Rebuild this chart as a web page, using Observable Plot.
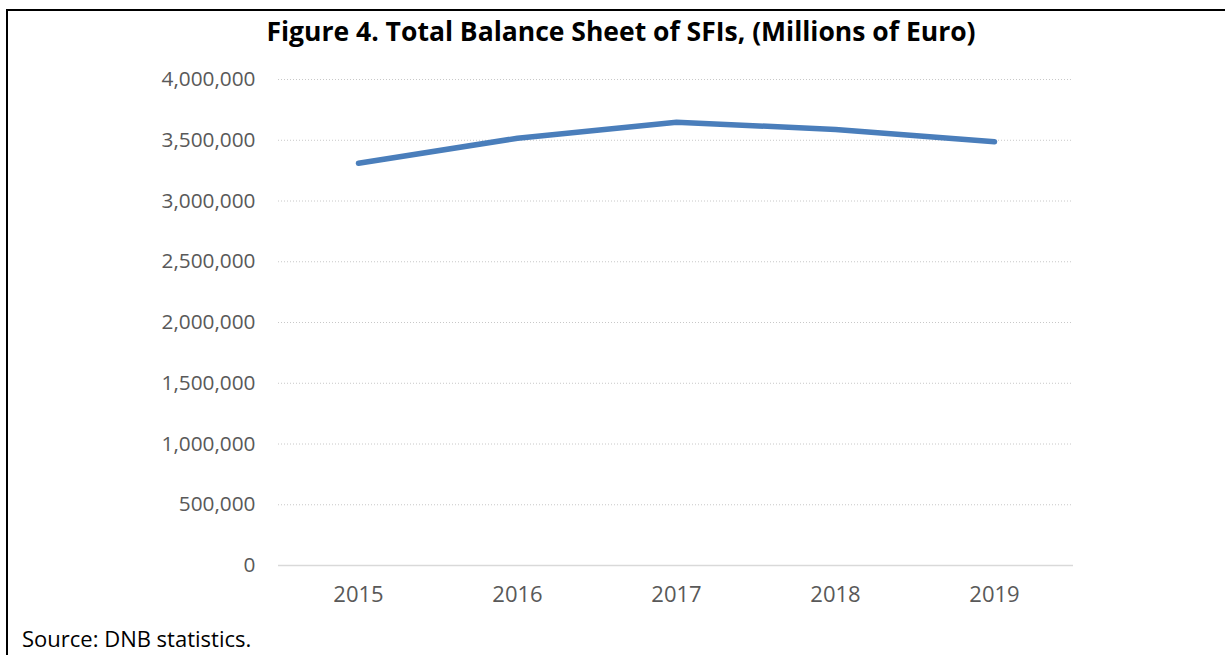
<!DOCTYPE html>
<html>
<head>
<meta charset="utf-8">
<script src="https://cdn.jsdelivr.net/npm/d3@7"></script>
<script src="https://cdn.jsdelivr.net/npm/@observablehq/plot@0.6"></script>
<style>
  html, body { margin: 0; padding: 0; background: #fff; }
  #wrap { position: relative; width: 1225px; height: 655px; overflow: hidden; font-family: "Open Sans", sans-serif; }
  #frame { position: absolute; left: 6px; top: 9px; width: 1300px; height: 700px; border-left: 2.5px solid #000; border-top: 2.5px solid #000; }
  #title { position: absolute; left: 0; width: 1242px; top: 14px; line-height: 34px; text-align: center; font-weight: bold; font-size: 26.5px; color: #000; white-space: nowrap; }
  #chart { position: absolute; left: 0; top: 50px; }
  #source { position: absolute; left: 22px; top: 625px; line-height: 26px; font-size: 22px; color: #000; white-space: nowrap; }
</style>
</head>
<body>
<div id="wrap">
  <div id="frame"></div>
  <div id="title">Figure 4. Total Balance Sheet of SFIs, (Millions of Euro)</div>
  <div id="chart"></div>
  <div id="source">Source: DNB statistics.</div>
</div>
<script>
const years = ["2015", "2016", "2017", "2018", "2019"];
const balance = [3311000, 3517000, 3649000, 3589000, 3488000];
const yTicks = [0, 500000, 1000000, 1500000, 2000000, 2500000, 3000000, 3500000, 4000000];

const data = years.map((y, i) => ({year: y, value: balance[i]}));
const gridTicks = yTicks.filter(t => t > 0);

const chart = Plot.plot({
  width: 1225,
  height: 570,
  marginLeft: 278,
  marginRight: 152,
  marginTop: 29,
  marginBottom: 55,
  style: { fontFamily: "Open Sans, sans-serif", background: "transparent" },
  x: { type: "point", domain: years, padding: 0.5, label: null },
  y: { domain: [0, 4000000], label: null },
  marks: [
    Plot.ruleY(gridTicks, { stroke: "#c8c8c8", strokeWidth: 1, strokeDasharray: "1,2" }),
    Plot.ruleY([0], { stroke: "#d9d9d9", strokeWidth: 1.5 }),
    Plot.axisY({ ticks: yTicks, tickFormat: d3.format(","), tickSize: 0, tickPadding: 23, fontSize: 20.8, color: "#595959", label: null }),
    Plot.axisX({ tickSize: 0, tickPadding: 21, fontSize: 22, color: "#595959", label: null }),
    Plot.line(data, { x: "year", y: "value", stroke: "#4a7ebb", strokeWidth: 5.5, strokeLinecap: "round", strokeLinejoin: "round" })
  ]
});
document.getElementById("chart").appendChild(chart);
</script>
</body>
</html>
